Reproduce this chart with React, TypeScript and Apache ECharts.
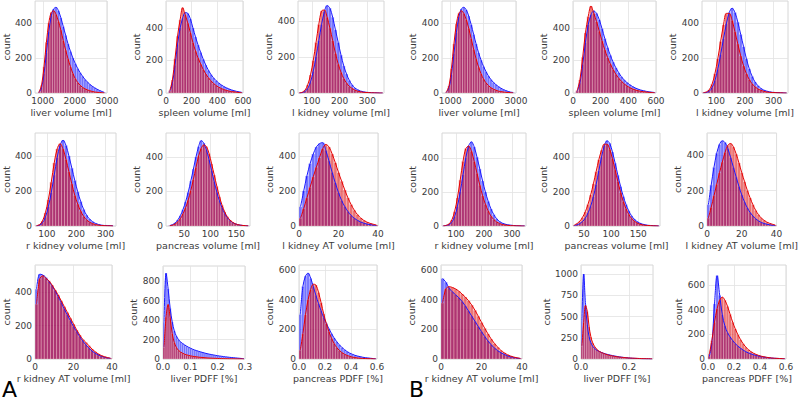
import React, { useEffect, useRef } from "react";
import * as echarts from "echarts";

// ---------- bin definitions [start, width] ----------
const liverBins = [850, 75];
const spleenBins = [20, 20];
const lkidABins = [50, 10];
const kidBBins = [50, 10];
const rkidABins = [60, 10];
const pancABins = [20, 5];
const pancBBins = [30, 5];
const atBins = [0, 1.6];
const lpdffBins = [0, 0.0075];
const ppdffBins = [0, 0.02];

// ---------- counts (blue / red) ----------
const liverA_blue = [5, 30, 110, 230, 350, 440, 480, 490, 470, 430, 380, 330, 280, 238, 200, 168, 140, 116, 96, 78, 63, 50, 39, 30, 22, 15, 9, 4];
const liverA_red = [8, 45, 150, 290, 400, 460, 470, 450, 410, 360, 300, 245, 195, 150, 112, 82, 60, 44, 32, 24, 18, 13, 9, 6, 4, 3, 2, 1];
const liverB_blue = [5, 30, 105, 225, 345, 435, 480, 490, 475, 440, 390, 335, 280, 230, 188, 152, 122, 97, 77, 61, 48, 37, 28, 20, 14, 9, 5, 3];
const liverB_red = [7, 40, 140, 280, 395, 455, 470, 455, 420, 370, 310, 250, 195, 148, 110, 80, 58, 42, 30, 22, 16, 11, 8, 6, 4, 3, 2, 1];

const spleenA_blue = [10, 60, 170, 300, 400, 460, 495, 490, 455, 400, 345, 295, 250, 208, 172, 140, 114, 93, 76, 62, 50, 40, 32, 25, 19, 14, 10, 7, 4];
const spleenA_red = [15, 80, 210, 350, 450, 525, 480, 430, 370, 310, 258, 215, 178, 145, 117, 94, 75, 59, 46, 36, 28, 21, 16, 12, 9, 7, 5, 3, 2];
const spleenB_blue = [10, 60, 175, 310, 420, 480, 505, 490, 450, 395, 335, 280, 232, 190, 155, 125, 100, 80, 64, 51, 40, 31, 24, 18, 14, 10, 7, 5, 3];
const spleenB_red = [15, 80, 220, 370, 470, 535, 490, 440, 380, 320, 265, 218, 178, 144, 115, 91, 72, 56, 43, 33, 25, 19, 14, 10, 8, 6, 4, 3, 2];

const lkidA_blue = [0, 2, 8, 25, 60, 120, 200, 290, 380, 450, 485, 470, 420, 350, 280, 210, 150, 105, 70, 45, 28, 18, 11, 7, 4, 3, 2, 1, 1, 0, 0];
const lkidA_red = [1, 4, 15, 45, 100, 180, 280, 380, 455, 460, 420, 360, 290, 220, 160, 115, 80, 55, 37, 25, 16, 10, 7, 4, 3, 2, 1, 1, 0, 0, 0];
const lkidB_blue = [1, 3, 10, 30, 70, 135, 220, 310, 395, 460, 485, 460, 405, 335, 265, 195, 138, 95, 63, 42, 27, 17, 11, 7, 4, 3, 2, 1, 1, 0];
const lkidB_red = [2, 6, 18, 50, 110, 195, 295, 390, 455, 455, 415, 350, 280, 212, 155, 110, 77, 52, 35, 23, 15, 10, 6, 4, 3, 2, 1, 1, 0, 0];

const rkidA_blue = [1, 5, 18, 50, 110, 190, 290, 390, 460, 490, 460, 400, 330, 260, 195, 140, 95, 62, 40, 25, 15, 9, 5, 3, 3, 2, 1];
const rkidA_red = [2, 8, 28, 75, 150, 250, 360, 440, 470, 440, 380, 310, 240, 175, 125, 85, 55, 35, 22, 14, 8, 5, 3, 2, 1, 1, 0];
const rkidB_blue = [1, 3, 8, 22, 55, 115, 200, 300, 400, 470, 495, 465, 405, 335, 265, 200, 145, 100, 67, 43, 27, 17, 11, 7, 5, 3, 2, 1, 1, 1];
const rkidB_red = [1, 4, 12, 35, 85, 165, 270, 380, 455, 470, 440, 380, 310, 240, 178, 128, 88, 58, 38, 24, 15, 9, 6, 4, 2, 2, 1, 1, 0, 0];

const pancA_blue = [3, 8, 18, 35, 60, 95, 140, 195, 260, 330, 400, 460, 495, 480, 440, 385, 320, 255, 195, 145, 105, 72, 48, 32, 20, 13, 8, 5, 3, 2, 1];
const pancA_red = [2, 5, 12, 24, 42, 70, 105, 150, 205, 270, 340, 405, 450, 470, 460, 420, 360, 295, 230, 170, 120, 82, 54, 35, 22, 13, 8, 5, 3, 2, 1];
const pancB_blue = [3, 7, 14, 26, 45, 75, 115, 170, 240, 320, 400, 465, 495, 480, 430, 365, 295, 230, 172, 125, 88, 60, 40, 26, 17, 11, 7, 4, 3, 2, 1, 1];
const pancB_red = [6, 14, 28, 50, 82, 125, 180, 245, 315, 385, 440, 475, 475, 445, 390, 325, 258, 195, 142, 100, 68, 45, 29, 18, 11, 7, 4, 3, 2, 1, 1, 0];

const lkatA_blue = [110, 200, 285, 355, 410, 450, 470, 475, 430, 370, 305, 245, 190, 145, 110, 82, 60, 44, 32, 23, 16, 11, 8, 5, 3];
const lkatA_red = [45, 100, 160, 220, 280, 335, 390, 440, 465, 450, 410, 360, 305, 255, 205, 160, 122, 90, 65, 46, 32, 22, 15, 10, 6];
const lkatB_blue = [120, 230, 330, 410, 460, 480, 470, 435, 385, 330, 275, 222, 175, 135, 102, 76, 56, 40, 29, 20, 14, 10, 7, 4, 3];
const lkatB_red = [45, 105, 170, 235, 300, 360, 415, 455, 465, 445, 405, 355, 300, 250, 200, 158, 120, 88, 64, 45, 32, 22, 15, 10, 6];

const rkatA_blue = [420, 510, 505, 490, 465, 440, 410, 375, 340, 300, 265, 230, 195, 165, 135, 108, 85, 65, 48, 35, 25, 17, 11, 7, 4];
const rkatA_red = [330, 480, 500, 485, 470, 445, 415, 385, 350, 315, 280, 245, 210, 175, 145, 118, 100, 80, 60, 44, 31, 21, 14, 9, 5];
const rkatB_blue = [545, 520, 480, 455, 435, 415, 390, 360, 325, 290, 255, 220, 185, 152, 122, 96, 74, 56, 42, 31, 22, 15, 10, 6, 3];
const rkatB_red = [380, 475, 490, 485, 475, 460, 440, 420, 395, 365, 330, 290, 248, 208, 170, 135, 105, 80, 58, 42, 29, 20, 13, 8, 4];

const lpdA_blue = [380, 880, 720, 520, 380, 290, 235, 200, 175, 160, 145, 132, 120, 110, 100, 92, 85, 78, 72, 66, 60, 55, 50, 46, 42, 38, 34, 31, 28, 25, 22, 20, 17, 15, 13, 11, 9, 7, 5, 3];
const lpdA_red = [120, 430, 560, 420, 260, 170, 120, 90, 72, 60, 50, 43, 37, 32, 28, 25, 22, 19, 17, 15, 13, 11, 10, 9, 8, 7, 6, 5, 4, 4, 3, 3, 2, 2, 2, 1, 1, 1, 1, 0];
const lpdB_blue = [450, 1000, 640, 400, 260, 190, 150, 125, 108, 95, 85, 76, 68, 61, 55, 50, 45, 40, 36, 32, 28, 25, 22, 19, 17, 15, 13, 11, 9, 8, 7, 6, 5, 4, 3, 3, 2, 2, 1, 1];
const lpdB_red = [150, 430, 630, 560, 380, 260, 190, 148, 120, 100, 86, 75, 66, 58, 51, 45, 40, 36, 32, 28, 25, 22, 20, 18, 16, 14, 12, 11, 10, 9, 8, 7, 6, 5, 4, 4, 3, 3, 2, 2];

const ppdA_blue = [300, 490, 560, 580, 545, 490, 430, 375, 325, 280, 240, 205, 172, 142, 117, 96, 78, 63, 50, 40, 32, 25, 20, 16, 12, 9, 7, 5, 3, 2];
const ppdA_red = [60, 170, 300, 400, 470, 505, 500, 450, 380, 305, 240, 185, 140, 105, 78, 58, 43, 32, 24, 18, 13, 10, 7, 5, 4, 3, 2, 2, 1, 1];
const ppdB_blue = [20, 130, 450, 680, 520, 360, 270, 215, 180, 150, 125, 105, 88, 73, 60, 50, 42, 35, 29, 24, 20, 16, 13, 10, 8, 6, 5, 4, 3, 2];
const ppdB_red = [40, 150, 300, 410, 480, 505, 480, 430, 365, 300, 245, 198, 158, 125, 98, 77, 60, 47, 37, 29, 23, 18, 14, 11, 8, 6, 5, 4, 3, 2];

// ---------- axis ranges and ticks ----------
const liverTicks = [1000, 2000, 3000];
const spleenTicks = [0, 200, 400, 600];
const kidTicks = [100, 200, 300];
const pancTicks = [50, 100, 150];
const atTicks = [0, 20, 40];
const lpdATicks = [0, 0.1, 0.2, 0.3];
const lpdBTicks = [0, 0.2];
const ppdTicks = [0, 0.2, 0.4, 0.6];
const count400 = [0, 200, 400];
const count600 = [0, 200, 400, 600];
const count800 = [0, 200, 400, 600, 800];
const count1000 = [0, 250, 500, 750, 1000];

const labels = {
  liver: "liver volume [ml]",
  spleen: "spleen volume [ml]",
  lkid: "l kidney volume [ml]",
  rkid: "r kidney volume [ml]",
  panc: "pancreas volume [ml]",
  lkat: "l kidney AT volume [ml]",
  rkat: "r kidney AT volume [ml]",
  lpdff: "liver PDFF [%]",
  ppdff: "pancreas PDFF [%]",
};

// panel table: label, bins, blue, red, xRange, xTicks, yMax, yTicks, decimals
const panels: any[] = [
  [labels.liver, liverBins, liverA_blue, liverA_red, [760, 3000], liverTicks, 526, count400, 0],
  [labels.spleen, spleenBins, spleenA_blue, spleenA_red, [0, 600], spleenTicks, 566, count400, 0],
  [labels.lkid, lkidABins, lkidA_blue, lkidA_red, [50, 360], kidTicks, 510, count400, 0],
  [labels.liver, liverBins, liverB_blue, liverB_red, [750, 3000], liverTicks, 526, count400, 0],
  [labels.spleen, spleenBins, spleenB_blue, spleenB_red, [0, 600], spleenTicks, 566, count400, 0],
  [labels.lkid, kidBBins, lkidB_blue, lkidB_red, [50, 350], kidTicks, 526, count400, 0],
  [labels.rkid, rkidABins, rkidA_blue, rkidA_red, [60, 335], kidTicks, 531, count400, 0],
  [labels.panc, pancABins, pancA_blue, pancA_red, [15, 176], pancTicks, 539, count400, 0],
  [labels.lkat, atBins, lkatA_blue, lkatA_red, [0, 40], atTicks, 530, count400, 0],
  [labels.rkid, kidBBins, rkidB_blue, rkidB_red, [50, 350], kidTicks, 547, count400, 0],
  [labels.panc, pancBBins, pancB_blue, pancB_red, [30, 190], pancTicks, 540, count400, 0],
  [labels.lkat, atBins, lkatB_blue, lkatB_red, [0, 40], atTicks, 524, count400, 0],
  [labels.rkat, atBins, rkatA_blue, rkatA_red, [0, 40], atTicks, 565, count400, 0],
  [labels.lpdff, lpdffBins, lpdA_blue, lpdA_red, [0, 0.3], lpdATicks, 954, count800, 1],
  [labels.ppdff, ppdffBins, ppdA_blue, ppdA_red, [0, 0.6], ppdTicks, 635, count600, 1],
  [labels.rkat, atBins, rkatB_blue, rkatB_red, [0, 40], atTicks, 637, count600, 0],
  [labels.lpdff, lpdffBins, lpdB_blue, lpdB_red, [0, 0.3], lpdBTicks, 1106, count1000, 1],
  [labels.ppdff, ppdffBins, ppdB_blue, ppdB_red, [0, 0.6], ppdTicks, 767, count600, 1],
];

// layout: plot rectangles [left, top, right, bottom] in px
const rects = [
  [32, 1, 107, 93], [166, 1, 243, 93], [298, 1, 384, 93],
  [442, 1, 516, 93], [573, 1, 656, 93], [702, 1, 788, 93],
  [32, 133, 116, 226], [166, 133, 250, 226], [299, 133, 378, 226],
  [442, 133, 526, 226], [573, 133, 660, 226], [707, 133, 787, 226],
  [32, 265, 112, 359], [163, 266, 245, 359], [299, 265, 377, 359],
  [441, 265, 522, 359], [581, 265, 653, 359], [708, 265, 786, 359],
];

const FONT = "DejaVu Sans";
const TXT = "#3a3a3a";
const BLUE_FILL = "rgba(0,0,255,0.55)";
const RED_FILL = "rgba(220,0,0,0.55)";
const BLUE_LINE = "rgb(25,25,255)";
const RED_LINE = "rgb(230,0,0)";

function buildOption() {
  const grid: any[] = [];
  const xAxis: any[] = [];
  const yAxis: any[] = [];
  const series: any[] = [];
  panels.forEach((p, i) => {
    const [name, bins, blue, red, xr, xt, yMax, yt, dec] = p;
    const [l, t, r, b] = rects[i];
    grid.push({
      left: l, top: t, width: r - l, height: b - t,
      show: true, borderColor: "#d6d6d6", borderWidth: 1,
      backgroundColor: "rgba(0,0,0,0)",
    });
    xAxis.push({
      type: "value", gridIndex: i, min: xr[0], max: xr[1],
      name, nameLocation: "middle", nameGap: 14,
      nameTextStyle: { fontSize: 9.5, color: TXT, fontFamily: FONT },
      axisLine: { show: false },
      axisTick: { show: false, customValues: xt },
      axisLabel: {
        customValues: xt, fontSize: 9, color: TXT, fontFamily: FONT, margin: 3,
        formatter: (v: number) => (dec ? v.toFixed(1) : String(v)),
      },
      splitLine: { show: true, lineStyle: { color: "#e2e2e2", width: 0.8 } },
    });
    const maxTick = yt[yt.length - 1];
    yAxis.push({
      type: "value", gridIndex: i, min: 0, max: yMax,
      name: "count", nameLocation: "middle", nameGap: String(maxTick).length > 3 ? 28 : 22,
      nameTextStyle: { fontSize: 9.5, color: TXT, fontFamily: FONT },
      axisLine: { show: false },
      axisTick: { show: false, customValues: yt },
      axisLabel: {
        customValues: yt, fontSize: 9, color: TXT, fontFamily: FONT, margin: 3,
        formatter: (v: number) => String(v),
      },
      splitLine: { show: true, lineStyle: { color: "#e2e2e2", width: 0.8 } },
    });
    const [start, w] = bins;
    const mk = (arr: number[]) => arr.map((c, k) => [start + k * w, start + (k + 1) * w, c]);
    const mkLine = (arr: number[]) => arr.map((c, k) => [start + (k + 0.5) * w, c]);
    const hist = (arr: number[], fill: string) => ({
      type: "custom", xAxisIndex: i, yAxisIndex: i, clip: true, silent: true,
      encode: { x: [0, 1], y: 2 },
      data: mk(arr),
      renderItem: (_params: any, api: any) => {
        const p0 = api.coord([api.value(0), api.value(2)]);
        const p1 = api.coord([api.value(1), 0]);
        return {
          type: "rect",
          shape: { x: p0[0], y: p0[1], width: p1[0] - p0[0], height: p1[1] - p0[1] },
          style: { fill, stroke: "rgba(255,255,255,0.55)", lineWidth: 0.4 },
        };
      },
    });
    series.push(hist(blue, BLUE_FILL));
    series.push(hist(red, RED_FILL));
    const line = (arr: number[], color: string) => ({
      type: "line", xAxisIndex: i, yAxisIndex: i, data: mkLine(arr),
      smooth: 0.35, showSymbol: false, silent: true,
      lineStyle: { color, width: 1 },
    });
    series.push(line(blue, BLUE_LINE));
    series.push(line(red, RED_LINE));
  });
  return {
    animation: false,
    backgroundColor: "#ffffff",
    textStyle: { fontFamily: FONT },
    grid, xAxis, yAxis, series,
    graphic: [
      { type: "text", left: 2, top: 378, style: { text: "A", font: `22px "${FONT}"`, fill: "#000" } },
      { type: "text", left: 409, top: 378, style: { text: "B", font: `22px "${FONT}"`, fill: "#000" } },
    ],
  };
}

export default function App() {
  const ref = useRef<HTMLDivElement>(null);
  useEffect(() => {
    if (!ref.current) return;
    const chart = echarts.init(ref.current, undefined, { renderer: "svg" });
    chart.setOption(buildOption() as any);
    return () => chart.dispose();
  }, []);
  return (
    <div
      ref={ref}
      style={{ position: "fixed", left: 0, top: 0, width: 800, height: 400, background: "#fff" }}
    />
  );
}
